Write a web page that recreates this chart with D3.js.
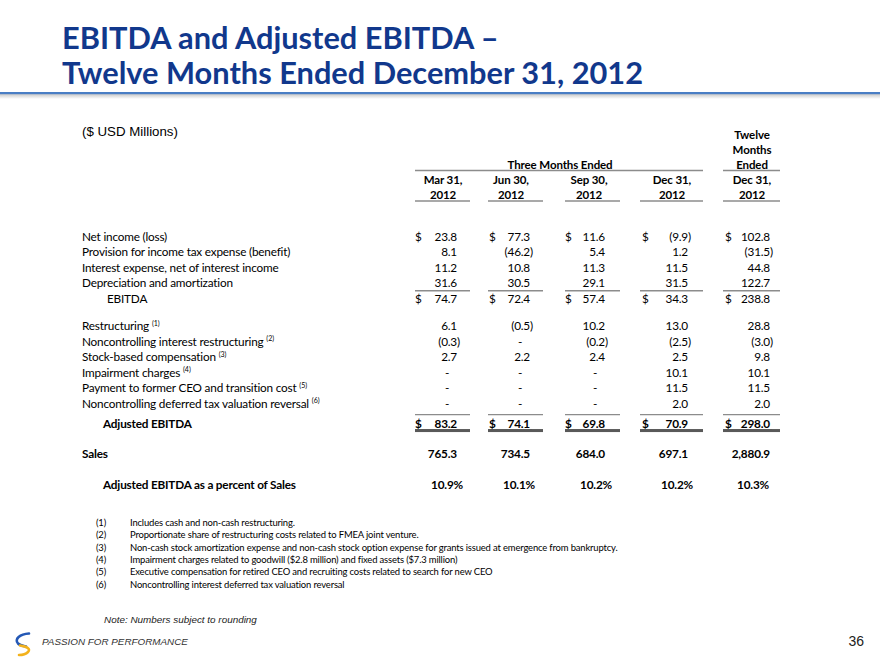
<!DOCTYPE html>
<html><head><meta charset="utf-8">
<script src="https://cdn.jsdelivr.net/npm/d3@7"></script>
<style>body{margin:0;background:#fff;} svg{display:block;}</style>
</head><body>
<script>
// ---------------- DATA ----------------
const titleLines = ["EBITDA and Adjusted EBITDA –", "Twelve Months Ended December 31, 2012"];
const unitsLabel = "($ USD Millions)";
const quarterGroupLabel = "Three Months Ended";
const yearGroupLabel = ["Twelve", "Months", "Ended"];
const periodIds = ["q1", "q2", "q3", "q4", "fy"];
const periodMonth = ["Mar 31,", "Jun 30,", "Sep 30,", "Dec 31,", "Dec 31,"];
const periodYear = ["2012", "2012", "2012", "2012", "2012"];
const rowLabels = [
  "Net income (loss)",
  "Provision for income tax expense (benefit)",
  "Interest expense, net of interest income",
  "Depreciation and amortization",
  "EBITDA",
  "Restructuring",
  "Noncontrolling interest restructuring",
  "Stock-based compensation",
  "Impairment charges",
  "Payment to former CEO and transition cost",
  "Noncontrolling deferred tax valuation reversal",
  "Adjusted EBITDA",
  "Sales",
  "Adjusted EBITDA as a percent of Sales"
];
const rowNotes = [null, null, null, null, null, "(1)", "(2)", "(3)", "(4)", "(5)", "(6)", null, null, null];
const mar31 = [23.8, 8.1, 11.2, 31.6, 74.7, 6.1, -0.3, 2.7, null, null, null, 83.2, 765.3, 10.9];
const jun30 = [77.3, -46.2, 10.8, 30.5, 72.4, -0.5, null, 2.2, null, null, null, 74.1, 734.5, 10.1];
const sep30 = [11.6, 5.4, 11.3, 29.1, 57.4, 10.2, -0.2, 2.4, null, null, null, 69.8, 684.0, 10.2];
const dec31 = [-9.9, 1.2, 11.5, 31.5, 34.3, 13.0, -2.5, 2.5, 10.1, 11.5, 2.0, 70.9, 697.1, 10.2];
const fy2012 = [102.8, -31.5, 44.8, 122.7, 238.8, 28.8, -3.0, 9.8, 10.1, 11.5, 2.0, 298.0, 2880.9, 10.3];
const footnoteMarks = ["(1)", "(2)", "(3)", "(4)", "(5)", "(6)"];
const footnoteTexts = [
  "Includes cash and non-cash restructuring.",
  "Proportionate share of restructuring costs related to FMEA joint venture.",
  "Non-cash stock amortization expense and non-cash stock option expense for grants issued at emergence from bankruptcy.",
  "Impairment charges related to goodwill ($2.8 million) and fixed assets ($7.3 million)",
  "Executive compensation for retired CEO and recruiting costs related to search for new CEO",
  "Noncontrolling interest deferred tax valuation reversal"
];
const noteText = "Note: Numbers subject to rounding";
const footerText = "PASSION FOR PERFORMANCE";
const pageNumber = "36";

// ---------------- LAYOUT ----------------
const W = 880, H = 660;
const columns = [mar31, jun30, sep30, dec31, fy2012];
const body = "Lato, 'Noto Sans', sans-serif";
const arial = "Arial, 'Liberation Sans', sans-serif";
const titleColor = "#11388C";
const textColor = "#000";
const ruleColor = "#8c8c8c";

const svg = d3.select("body").append("svg").attr("width", W).attr("height", H);

function measure(family, weight, style, size, sample) {
  const t = svg.append("text").attr("font-family", family).attr("font-weight", weight)
    .attr("font-style", style).attr("font-size", size).text(sample);
  const w = t.node().getComputedTextLength();
  t.remove();
  return w;
}
function fitSize(family, weight, style, sample, target) {
  return 100 * target / measure(family, weight, style, 100, sample);
}
function fitNarrow(family, weight, sample, target, grow) {
  const size = fitSize(family, weight, "normal", sample, target) * grow;
  const w = measure(family, weight, "normal", size, sample);
  return {size, ls: (target - w) / sample.length};
}

// x scales (ordinal mapping from period to horizontal anchors)
const xRight = d3.scaleOrdinal().domain(periodIds).range([457, 530, 605, 688, 770]);
const xDollar = d3.scaleOrdinal().domain(periodIds).range([415, 489, 565, 642, 725]);
const xCenter = d3.scaleOrdinal().domain(periodIds).range([443, 511, 589, 672, 752]);
const xCellL = d3.scaleOrdinal().domain(periodIds).range([415, 488, 565, 640, 723]);
const xCellR = d3.scaleOrdinal().domain(periodIds).range([470, 543, 620, 703, 780]);
const xPct = d3.scaleOrdinal().domain(periodIds).range([463, 535, 612, 693, 769]);

// y scale: row slot -> center line
const rowSlots = [0, 1, 2, 3, 4, 5.8, 6.8, 7.8, 8.8, 9.8, 10.8, 12.1, 14.0, 16.0];
const y = d3.scaleLinear().domain([0, 1]).range([236, 251.5]);

const dollarRows = new Set([0, 4, 11]);
const boldRows = new Set([11, 12, 13]);
const indentRows = {4: 107, 11: 103, 13: 103};
const pctRow = 13, salesRow = 12, adjRow = 11;

// ---- Title ----
const titleSize = fitSize(body, 700, "normal", titleLines[0], 437);
svg.selectAll("text.title").data(titleLines).join("text").attr("class", "title")
  .attr("x", 62).attr("y", (d, i) => 49 + i * 34.5)
  .attr("font-family", body).attr("font-weight", 700).attr("font-size", titleSize)
  .attr("fill", titleColor).text(d => d);

// blue rule with shadow
const defs = svg.append("defs");
const g = defs.append("linearGradient").attr("id", "shadow").attr("x1", 0).attr("x2", 0).attr("y1", 0).attr("y2", 1);
g.append("stop").attr("offset", 0).attr("stop-color", "#c8c8c8");
g.append("stop").attr("offset", 1).attr("stop-color", "#ffffff");
svg.append("rect").attr("x", 0).attr("y", 94).attr("width", W).attr("height", 5).attr("fill", "url(#shadow)");
svg.append("rect").attr("x", 0).attr("y", 92).attr("width", W).attr("height", 2.2).attr("fill", "#4a7ec4");

// units
const unitsSize = fitSize(arial, 400, "normal", unitsLabel, 96);
svg.append("text").attr("x", 82).attr("y", 136).attr("font-family", arial).attr("font-size", unitsSize)
  .attr("fill", textColor).text(unitsLabel);

// ---- Header ----
const bodyF = fitNarrow(body, 400, rowLabels[1], 208, 1.04);
const headF = fitNarrow(body, 700, quarterGroupLabel, 105, 1.02);
const hdr = svg.append("g").attr("font-family", body).attr("font-weight", 700)
  .attr("font-size", headF.size).attr("letter-spacing", headF.ls).attr("fill", textColor).attr("text-anchor", "middle");
hdr.selectAll("text.yg").data(yearGroupLabel).join("text").attr("class", "yg")
  .attr("x", xCenter("fy")).attr("y", (d, i) => 138.5 + i * 15).text(d => d);
hdr.append("text").attr("x", (xCellL("q1") + xCellR("q4")) / 2 + 1).attr("y", 168.5).text(quarterGroupLabel);
hdr.selectAll("text.pm").data(periodIds).join("text").attr("class", "pm")
  .attr("x", d => xCenter(d)).attr("y", 183.5).text((d, i) => periodMonth[i]);
hdr.selectAll("text.py").data(periodIds).join("text").attr("class", "py")
  .attr("x", d => xCenter(d)).attr("y", 198.5).text((d, i) => periodYear[i]);

function hline(x1, x2, yy, w, c) {
  svg.append("line").attr("x1", x1).attr("x2", x2).attr("y1", yy).attr("y2", yy)
    .attr("stroke", c || ruleColor).attr("stroke-width", w || 1.3);
}
hline(xCellL("q1"), xCellR("q4"), 170.5);
hline(xCellL("fy"), xCellR("fy"), 170.5);
periodIds.forEach(p => hline(xCellL(p), xCellR(p), 201));

// ---- Rows ----
const rowsG = svg.append("g").attr("font-family", body).attr("font-size", bodyF.size)
  .attr("letter-spacing", bodyF.ls).attr("fill", textColor);
rowLabels.forEach((lab, i) => {
  const t = rowsG.append("text")
    .attr("x", indentRows[i] || 82)
    .attr("y", y(rowSlots[i]) + 4.5)
    .attr("font-weight", boldRows.has(i) ? 700 : 400)
    .text(lab);
  if (rowNotes[i]) {
    t.append("tspan").text(" ");
    t.append("tspan").attr("font-size", bodyF.size * 0.6).attr("letter-spacing", 0).attr("dy", -4.5).text(rowNotes[i]);
  }
});

const fmt1 = d3.format(".1f");
const fmtSales = d3.format(",.1f");
periodIds.forEach((p, ci) => {
  const vals = columns[ci];
  vals.forEach((v, i) => {
    const by = y(rowSlots[i]) + 4.5;
    const weight = boldRows.has(i) ? 700 : 400;
    if (dollarRows.has(i)) {
      rowsG.append("text").attr("x", xDollar(p)).attr("y", by).attr("font-weight", weight).text("$");
    }
    if (v === null) {
      rowsG.append("text").attr("x", xRight(p) - 10).attr("y", by).attr("text-anchor", "middle").text("-");
      return;
    }
    if (i === pctRow) {
      rowsG.append("text").attr("x", xPct(p)).attr("y", by).attr("text-anchor", "end")
        .attr("font-weight", weight).text(fmt1(v) + "%");
      return;
    }
    const s = i === salesRow ? fmtSales(Math.abs(v)) : fmt1(Math.abs(v));
    if (v < 0) {
      rowsG.append("text").attr("x", xRight(p)).attr("y", by).attr("text-anchor", "end")
        .attr("font-weight", weight).text("(" + s);
      rowsG.append("text").attr("x", xRight(p)).attr("y", by).attr("font-weight", weight).text(")");
    } else {
      rowsG.append("text").attr("x", xRight(p)).attr("y", by).attr("text-anchor", "end")
        .attr("font-weight", weight).text(s);
    }
  });
  // subtotal rule above EBITDA
  hline(xCellL(p), xCellR(p), (y(rowSlots[3]) + y(rowSlots[4])) / 2 + 0.5);
  // rule above Adjusted EBITDA
  hline(xCellL(p), xCellR(p), y(rowSlots[adjRow]) - 9);
  // underline of Adjusted EBITDA text and double rule
  hline(xDollar(p), xRight(p) + 2, y(rowSlots[adjRow]) + 6.5, 1, "#000");
  svg.append("rect").attr("x", xCellL(p)).attr("y", y(rowSlots[adjRow]) + 5.5)
    .attr("width", xCellR(p) - xCellL(p)).attr("height", 3).attr("fill", "#595959");
});

// ---- Footnotes ----
const fnF = fitNarrow(body, 400, footnoteTexts[2], 488, 1.04);
const fn = svg.append("g").attr("font-family", body).attr("font-size", fnF.size)
  .attr("letter-spacing", fnF.ls).attr("fill", textColor);
fn.selectAll("text.fm").data(footnoteMarks).join("text").attr("class", "fm")
  .attr("x", 96).attr("y", (d, i) => 526 + i * 12.3).text(d => d);
fn.selectAll("text.ft").data(footnoteTexts).join("text").attr("class", "ft")
  .attr("x", 130).attr("y", (d, i) => 526 + i * 12.3).text(d => d);

// ---- Note & footer ----
const noteSize = fitSize(arial, 400, "italic", noteText, 153);
svg.append("text").attr("x", 104).attr("y", 623).attr("font-family", arial).attr("font-style", "italic")
  .attr("font-size", noteSize).attr("fill", "#222").text(noteText);
const footSize = fitSize(arial, 400, "italic", footerText, 146);
svg.append("text").attr("x", 42).attr("y", 644.5).attr("font-family", arial).attr("font-style", "italic")
  .attr("font-size", footSize).attr("fill", "#333").text(footerText);
svg.append("text").attr("x", 864).attr("y", 645.5).attr("text-anchor", "end").attr("font-family", arial)
  .attr("font-size", 14).attr("fill", "#222").text(pageNumber);

// logo
svg.append("path").attr("d", "M29,633.5 C20,634 14,639 18,643.5 C20,645.5 24,646 26,646.5")
  .attr("fill", "none").attr("stroke", "#2458b5").attr("stroke-width", 2.6).attr("stroke-linecap", "round");
svg.append("path").attr("d", "M20,645.5 C27,646.5 31,649 28,652 C26,654 22,655 19,655")
  .attr("fill", "none").attr("stroke", "#f3b21c").attr("stroke-width", 2.6).attr("stroke-linecap", "round");
</script>
</body></html>
